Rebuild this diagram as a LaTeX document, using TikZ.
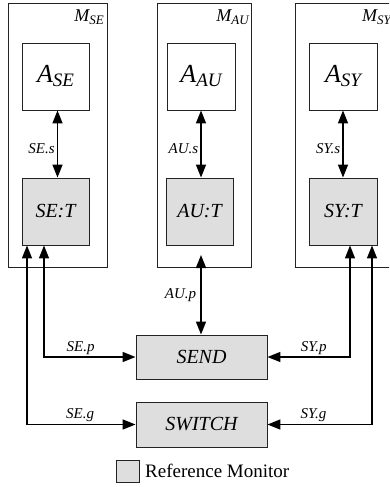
\documentclass[tikz,border=0pt]{standalone}
\usepackage{fontspec}
\setmainfont{LiberationSerif}[Extension=.ttf, UprightFont=*-Regular, ItalicFont=*-Italic, BoldFont=*-Bold, BoldItalicFont=*-BoldItalic]
\usetikzlibrary{arrows.meta}
\definecolor{rmfill}{RGB}{222,222,222}
\definecolor{edgecol}{RGB}{35,35,35}
\newcommand{\appname}[2]{{\fontsize{26}{26}\selectfont\itshape #1\raisebox{-4pt}{\fontsize{19}{19}\selectfont #2}}}
\newcommand{\modname}[2]{{\fontsize{18}{18}\selectfont\itshape #1\raisebox{-3pt}{\fontsize{13}{13}\selectfont #2}}}
\tikzset{
  frame/.style={draw=edgecol, line width=0.9pt, inner sep=0pt, fill=white},
  rm/.style={frame, fill=rmfill},
  conn/.style={line width=1.6pt, {Triangle[length=13pt,width=10pt]}-{Triangle[length=13pt,width=10pt]}},
  lbl/.style={font=\fontsize{15}{15}\selectfont\itshape, inner sep=2pt},
  big/.style={font=\fontsize{20}{20}\selectfont\itshape}
}
\begin{document}
\begin{tikzpicture}[x=1pt,y=-1pt]
\useasboundingbox (0,0) rectangle (389,487);
\clip (0,0) rectangle (389,487);
% modules
\node[frame, minimum width=99pt, minimum height=264pt] (MSE) at (57.5,135) {};
\node[frame, minimum width=94pt, minimum height=264pt] (MAU) at (204,135) {};
\node[frame, minimum width=100pt, minimum height=264pt] (MSY) at (345,135) {};
\node[anchor=base east, inner sep=0pt] (MSEl) at (104,22) {\modname{M}{SE}};
\node[anchor=base east, inner sep=0pt] (MAUl) at (249,22) {\modname{M}{AU}};
\node[anchor=base west, inner sep=0pt] (MSYl) at (362,22) {\modname{M}{SY}};
% applications
\node[frame, minimum width=67pt, minimum height=67pt] (ASE) at (55.5,76.5) {\appname{A}{SE}};
\node[frame, minimum width=68pt, minimum height=67pt] (AAU) at (201,76.5) {\appname{A}{AU}};
\node[frame, minimum width=68pt, minimum height=67pt] (ASY) at (343,76.5) {\appname{A}{SY}};
% transformers
\node[rm, minimum width=67pt, minimum height=67pt, big] (SET) at (55.5,211.5) {SE:T};
\node[rm, minimum width=67pt, minimum height=67pt, big] (AUT) at (199.5,211.5) {AU:T};
\node[rm, minimum width=68pt, minimum height=67pt, big] (SYT) at (343,211.5) {SY:T};
% reference monitors
\node[rm, minimum width=131pt, minimum height=44pt, big] (SEND) at (201.5,357) {SEND};
\node[rm, minimum width=131pt, minimum height=45pt, big] (SWITCH) at (201.5,424.5) {SWITCH};
% legend
\node[rm, minimum width=23pt, minimum height=22pt] (leg) at (127.5,471) {};
\node[anchor=west, inner sep=0pt, font=\fontsize{19}{19}\selectfont] (legt) at (145,471) {Reference Monitor};
% internal connectors
\draw[conn] ([xshift=2pt]ASE.south) -- node[lbl, left, pos=0.57] {SE.s} ([xshift=2pt]SET.north);
\draw[conn] (AAU.south) -- node[lbl, left, pos=0.57] {AU.s} (AAU.south |- AUT.north);
\draw[conn] (ASY.south) -- node[lbl, left, pos=0.57] {SY.s} (SYT.north);
% AU.p
\coordinate (AUin) at (201,255);
\draw[conn] (AUin) -- node[lbl, left, inner sep=4pt] {AU.p} (AUin |- SEND.north);
% SE side
\draw[conn] ([xshift=-11.5pt]SET.south) |- node[lbl, above, pos=0.70] {SE.p} (SEND.west);
\draw[conn] ([xshift=-28.5pt]SET.south) |- node[lbl, above, pos=0.745] {SE.g} (SWITCH.west);
% SY side
\draw[conn] ([xshift=7pt]SYT.south) |- node[lbl, above, pos=0.72] {SY.p} (SEND.east);
\draw[conn] ([xshift=29pt]SYT.south) |- node[lbl, above, pos=0.78] {SY.g} (SWITCH.east);
\end{tikzpicture}
\end{document}
